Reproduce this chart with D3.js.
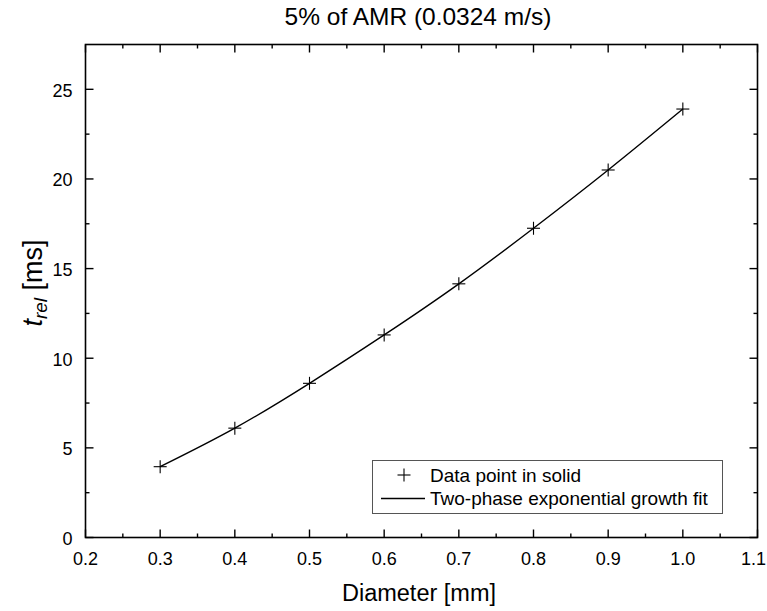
<!DOCTYPE html>
<html>
<head>
<meta charset="utf-8">
<script src="https://cdn.jsdelivr.net/npm/d3@7"></script>
<style>
  html, body { margin: 0; padding: 0; background: #fff; }
  svg text { font-family: "Liberation Sans", Arial, sans-serif; fill: #000; }
</style>
</head>
<body>
<svg id="chart" width="767" height="611"></svg>
<script>
// Relaxation time versus particle diameter
const diameters = [0.3, 0.4, 0.5, 0.6, 0.7, 0.8, 0.9, 1.0];
const tRel = [3.95, 6.1, 8.6, 11.3, 14.15, 17.25, 20.5, 23.9];

const xTicks = [0.2, 0.3, 0.4, 0.5, 0.6, 0.7, 0.8, 0.9, 1.0, 1.1];
const xMinorTicks = [0.25, 0.35, 0.45, 0.55, 0.65, 0.75, 0.85, 0.95, 1.05];
const yTicks = [0, 5, 10, 15, 20, 25];
const yMinorTicks = [2.5, 7.5, 12.5, 17.5, 22.5];

const titleText = "5% of AMR (0.0324 m/s)";
const xLabel = "Diameter [mm]";
const legendLabels = ["Data point in solid", "Two-phase exponential growth fit"];

const W = 767;
const svg = d3.select("#chart");
const plotL = 85.5, plotR = 757.5, plotT = 44.5, plotB = 537.5;

const x = d3.scaleLinear().domain([0.2, 1.1]).range([plotL, plotR]);
const y = d3.scaleLinear().domain([0, 27.5]).range([plotB, plotT]);

const majorLen = 8, minorLen = 4;

// Frame
svg.append("rect")
  .attr("x", plotL).attr("y", plotT)
  .attr("width", plotR - plotL).attr("height", plotB - plotT)
  .attr("fill", "none").attr("stroke", "#000").attr("stroke-width", 1.6);

// Inward ticks on all four sides
const ticks = svg.append("g").attr("stroke", "#000").attr("stroke-width", 1.4);
xTicks.forEach(v => {
  ticks.append("line").attr("x1", x(v)).attr("x2", x(v)).attr("y1", plotB).attr("y2", plotB - majorLen);
  ticks.append("line").attr("x1", x(v)).attr("x2", x(v)).attr("y1", plotT).attr("y2", plotT + majorLen);
});
xMinorTicks.forEach(v => {
  ticks.append("line").attr("x1", x(v)).attr("x2", x(v)).attr("y1", plotB).attr("y2", plotB - minorLen);
  ticks.append("line").attr("x1", x(v)).attr("x2", x(v)).attr("y1", plotT).attr("y2", plotT + minorLen);
});
yTicks.forEach(v => {
  ticks.append("line").attr("x1", plotL).attr("x2", plotL + majorLen).attr("y1", y(v)).attr("y2", y(v));
  ticks.append("line").attr("x1", plotR).attr("x2", plotR - majorLen).attr("y1", y(v)).attr("y2", y(v));
});
yMinorTicks.forEach(v => {
  ticks.append("line").attr("x1", plotL).attr("x2", plotL + minorLen).attr("y1", y(v)).attr("y2", y(v));
  ticks.append("line").attr("x1", plotR).attr("x2", plotR - minorLen).attr("y1", y(v)).attr("y2", y(v));
});

// Tick labels (the last one is kept inside the page edge)
svg.append("g").selectAll("text").data(xTicks).join("text")
  .attr("font-size", 18)
  .text(d => d3.format(".1f")(d))
  .attr("y", plotB + 27)
  .attr("text-anchor", "middle")
  .each(function(d) {
    const w = this.getComputedTextLength();
    d3.select(this).attr("x", Math.min(x(d), W - 1 - w / 2));
  });
svg.append("g").selectAll("text").data(yTicks).join("text")
  .attr("x", plotL - 13).attr("y", d => y(d) + 7.5)
  .attr("text-anchor", "end").attr("font-size", 18)
  .text(d => d);

// Title and axis labels
svg.append("text").attr("x", 418).attr("y", 25)
  .attr("text-anchor", "middle").attr("font-size", 24.5).text(titleText);
svg.append("text").attr("x", 419).attr("y", 601)
  .attr("text-anchor", "middle").attr("font-size", 23.5).text(xLabel);
const yl = svg.append("text")
  .attr("transform", "translate(42,283) rotate(-90)")
  .attr("text-anchor", "middle").attr("font-size", 27);
yl.append("tspan").attr("font-style", "italic").text("t");
yl.append("tspan").attr("font-style", "italic").attr("font-size", 19).attr("dy", 5).text("rel");
yl.append("tspan").attr("dy", -5).text(" [ms]");

// Fit curve through the data
const pts = diameters.map((d, i) => [d, tRel[i]]);
svg.append("path").datum(pts)
  .attr("fill", "none").attr("stroke", "#000").attr("stroke-width", 1.4)
  .attr("d", d3.line().x(d => x(d[0])).y(d => y(d[1])).curve(d3.curveNatural));

// Cross markers
const plus = (g, cx, cy, s) => {
  g.append("line").attr("x1", cx - s).attr("x2", cx + s).attr("y1", cy).attr("y2", cy);
  g.append("line").attr("x1", cx).attr("x2", cx).attr("y1", cy - s).attr("y2", cy + s);
};
const marks = svg.append("g").attr("stroke", "#000").attr("stroke-width", 1.1);
pts.forEach(p => plus(marks, x(p[0]), y(p[1]), 6.5));

// Legend
const lg = svg.append("g");
lg.append("rect").attr("x", 372.5).attr("y", 460.5).attr("width", 350).attr("height", 53)
  .attr("fill", "#fff").attr("stroke", "#555").attr("stroke-width", 1);
const lm = lg.append("g").attr("stroke", "#000").attr("stroke-width", 1.1);
plus(lm, 404, 475, 6.5);
lg.append("line").attr("x1", 381).attr("x2", 425).attr("y1", 498.5).attr("y2", 498.5)
  .attr("stroke", "#000").attr("stroke-width", 1.4);
lg.append("text").attr("x", 430).attr("y", 481.5).attr("font-size", 19).text(legendLabels[0]);
lg.append("text").attr("x", 430).attr("y", 504.5).attr("font-size", 19).text(legendLabels[1]);
</script>
</body>
</html>
